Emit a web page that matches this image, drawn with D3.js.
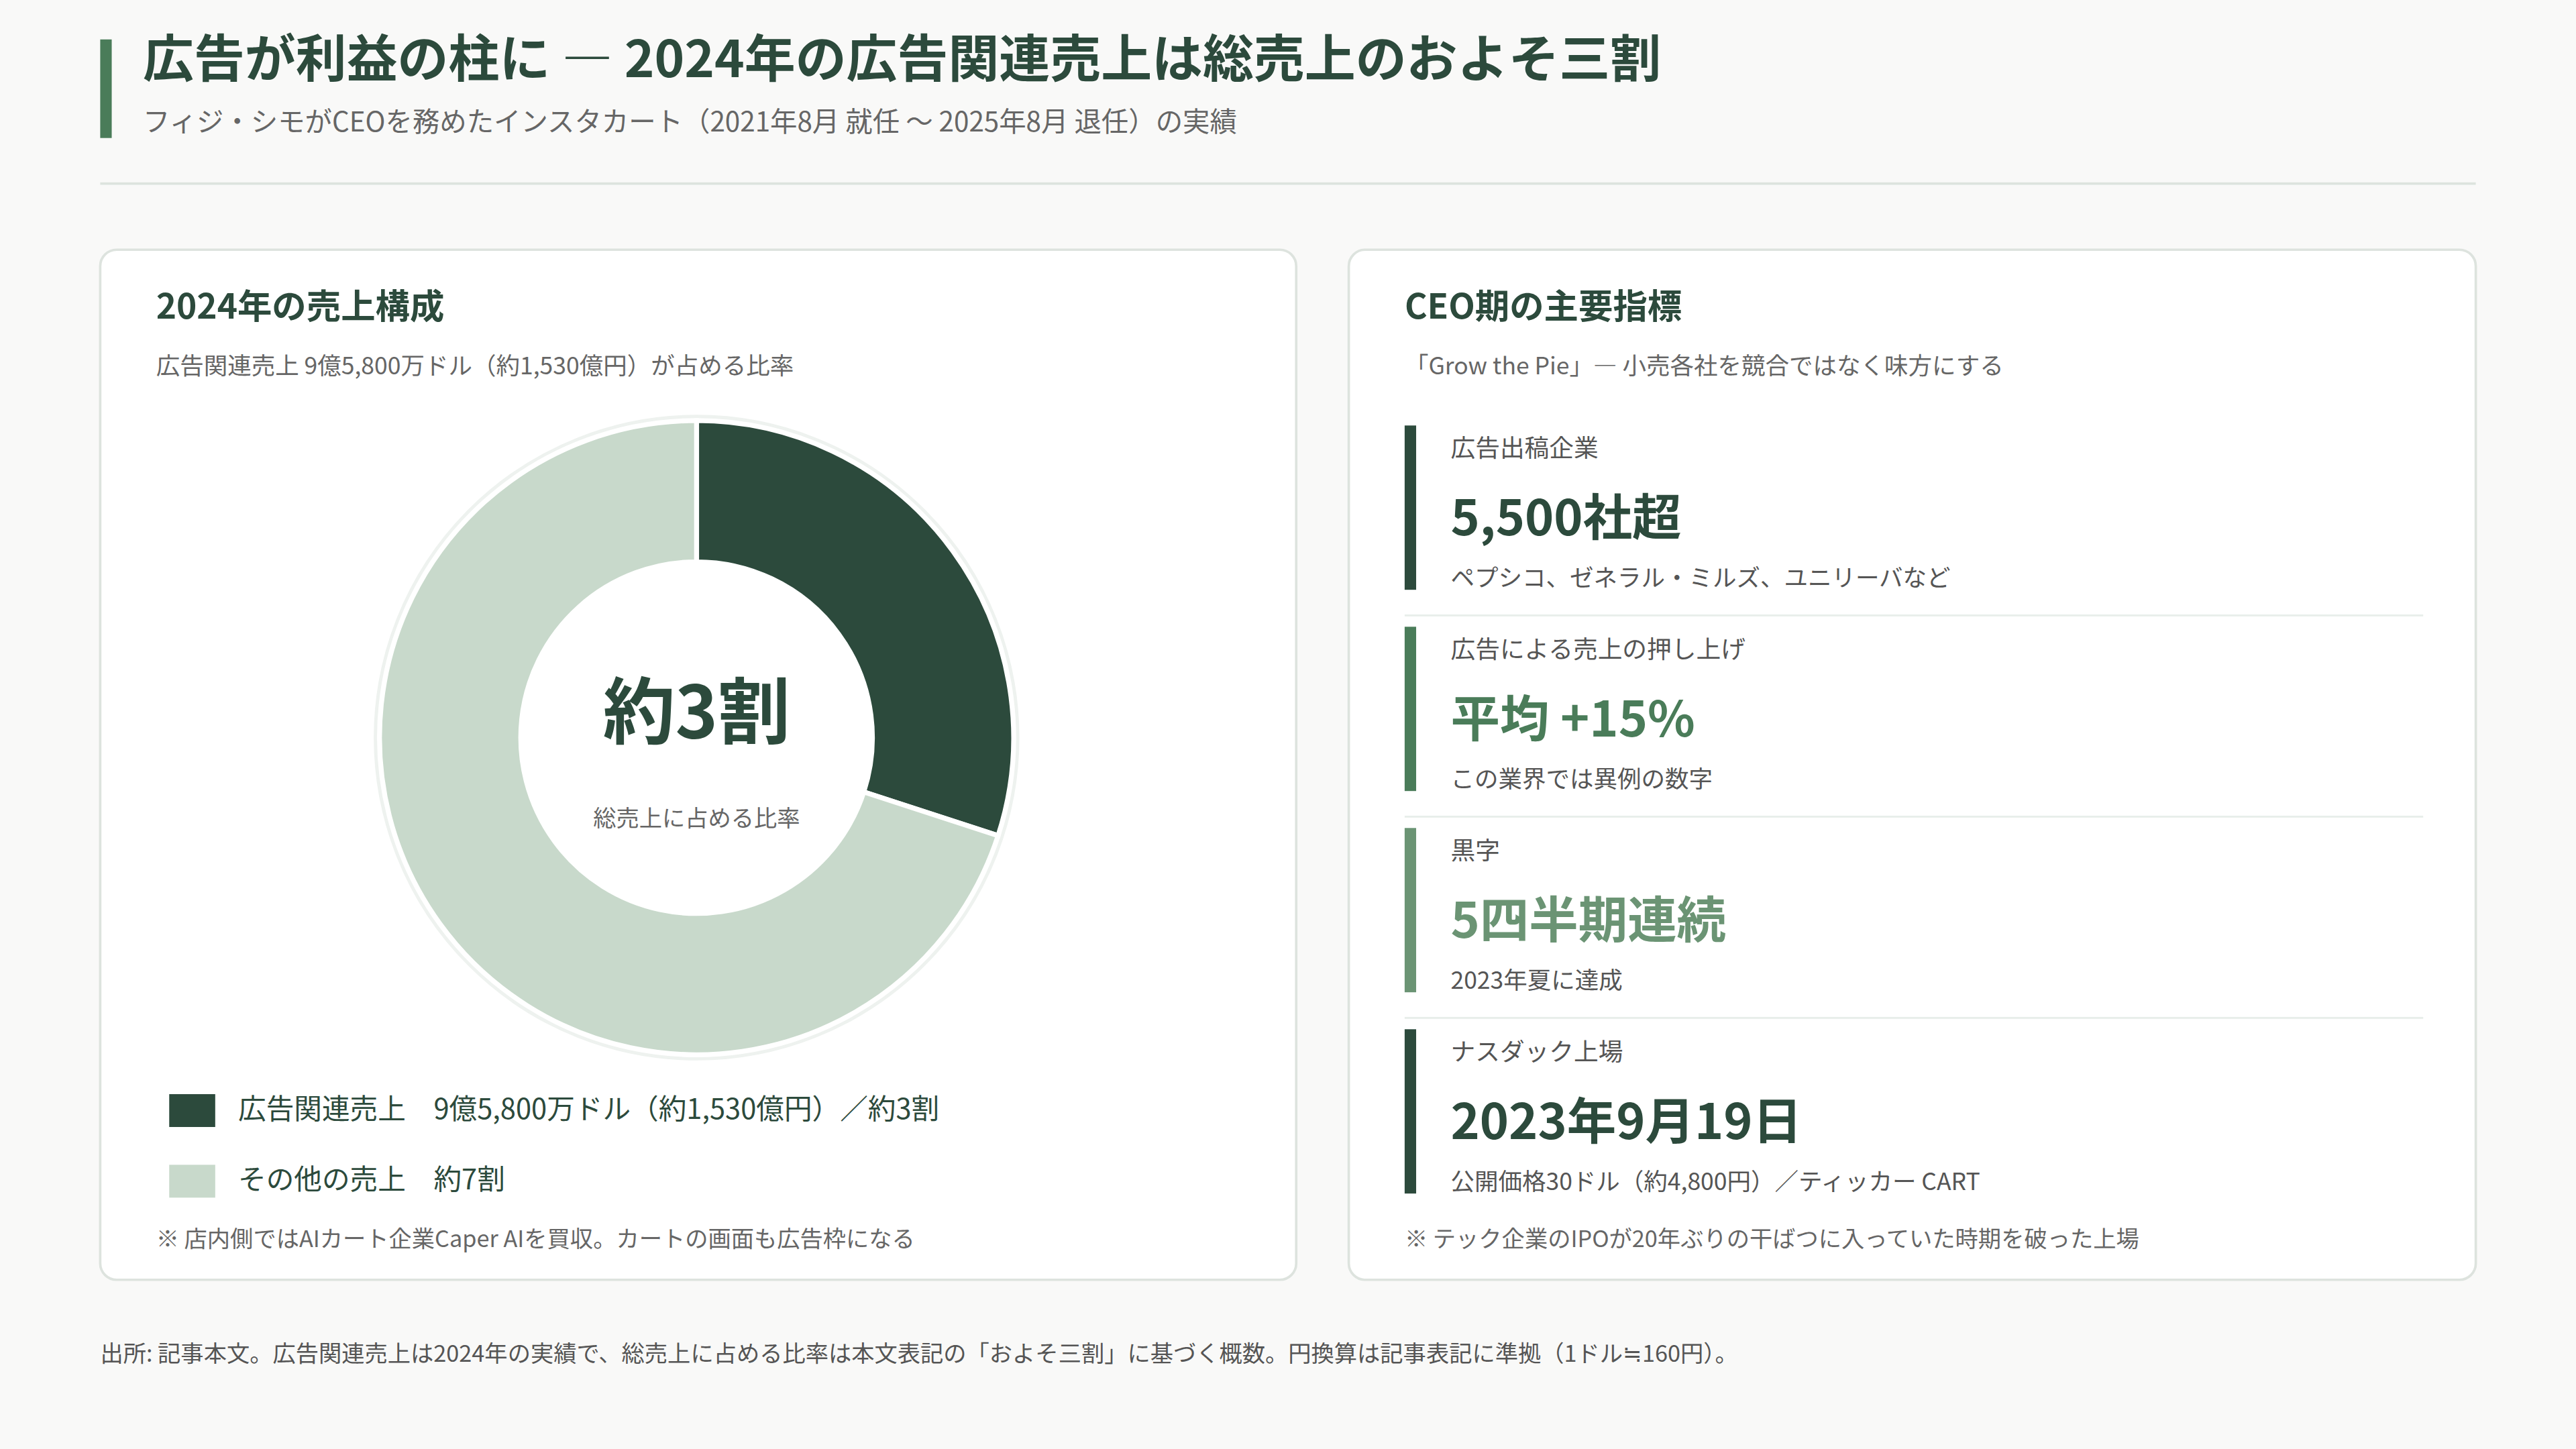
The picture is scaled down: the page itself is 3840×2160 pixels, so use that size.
<!DOCTYPE html>
<html><head><meta charset="utf-8">
<script src="https://cdn.jsdelivr.net/npm/d3@7/dist/d3.min.js"></script>
<style>html,body{margin:0;background:#f9f9f8;}svg{display:block;font-family:"Noto Sans CJK JP","Noto Sans",sans-serif;}</style>
</head><body>
<script>
const shareLabels = ["広告関連売上", "その他の売上"];
const shareValues = [30, 70];
const shareColors = ["#2c4a3c", "#c8d9cb"];
const legendTexts = ["広告関連売上　9億5,800万ドル（約1,530億円）／約3割", "その他の売上　約7割"];
const metricLabels = ["広告出稿企業", "広告による売上の押し上げ", "黒字", "ナスダック上場"];
const metricValues = ["5,500社超", "平均 +15%", "5四半期連続", "2023年9月19日"];
const metricNotes = ["ペプシコ、ゼネラル・ミルズ、ユニリーバなど", "この業界では異例の数字", "2023年夏に達成", "公開価格30ドル（約4,800円）／ティッカー CART"];
const metricColors = ["#2c4a3c", "#4a7c59", "#6b9474", "#2c4a3c"];

const svg = d3.select("body").append("svg").attr("width",3840).attr("height",2160).attr("viewBox","0 0 1568 882");
svg.append("rect").attr("width",1568).attr("height",882).attr("fill","#f9f9f8");
const T=(x,y,t,s,c,w,a)=>svg.append("text").attr("x",x).attr("y",y).text(t).attr("font-size",s).attr("fill",c).attr("font-weight",w||400).attr("text-anchor",a||"start");

svg.append("rect").attr("x",61).attr("y",24).attr("width",7).attr("height",60).attr("fill","#4a7c59");
T(87,47,"広告が利益の柱に ― 2024年の広告関連売上は総売上のおよそ三割",31,"#2c4a3c",700);
T(87,80,"フィジ・シモがCEOを務めたインスタカート（2021年8月 就任 〜 2025年8月 退任）の実績",16.5,"#666",400);
svg.append("rect").attr("x",61).attr("y",111).attr("width",1446).attr("height",1.5).attr("fill","#dde3de");

[[61,728],[821,686]].forEach(([x,w])=>svg.append("rect").attr("x",x).attr("y",152).attr("width",w).attr("height",627).attr("rx",10).attr("fill","#fff").attr("stroke","#dde3de").attr("stroke-width",1.5));

T(95,194,"2024年の売上構成",21,"#2c4a3c",700);
T(95,228,"広告関連売上 9億5,800万ドル（約1,530億円）が占める比率",14.5,"#666");
const pie=d3.pie().sort(null).value(d=>d)(shareValues);
const arc=d3.arc().innerRadius(107).outerRadius(193);
const g=svg.append("g").attr("transform","translate(424,449)");
g.append("circle").attr("r",195).attr("fill","none").attr("stroke","#eef2ef").attr("stroke-width",3);
g.selectAll("path").data(pie).join("path").attr("d",arc).attr("fill",(d,i)=>shareColors[i]).attr("stroke","#fff").attr("stroke-width",3);
g.append("text").attr("y",0).attr("text-anchor","middle").attr("font-size",44).attr("font-weight",700).attr("fill","#2c4a3c").text("約3割");
g.append("text").attr("y",54).attr("text-anchor","middle").attr("font-size",14).attr("fill","#666").text("総売上に占める比率");
legendTexts.forEach((t,i)=>{
  svg.append("rect").attr("x",103).attr("y",666+i*43).attr("width",28).attr("height",20).attr("fill",shareColors[i]);
  T(145,681+i*43,t,17,"#2c4a3c");
});
T(95,759,"※ 店内側ではAIカート企業Caper AIを買収。カートの画面も広告枠になる",14,"#666");

T(855,194,"CEO期の主要指標",21,"#2c4a3c",700);
T(855,228,"「Grow the Pie」― 小売各社を競合ではなく味方にする",14.5,"#666");
metricLabels.forEach((l,i)=>{
  const y=259+i*122.5;
  svg.append("rect").attr("x",855).attr("y",y).attr("width",7).attr("height",100).attr("fill",metricColors[i]);
  T(883,y+19,l,15,"#555");
  T(883,y+67,metricValues[i],30,metricColors[i],700);
  T(883,y+98,metricNotes[i],14.5,"#555");
  if(i<3) svg.append("rect").attr("x",855).attr("y",y+115).attr("width",620).attr("height",1.2).attr("fill","#e8eeea");
});
T(855,759,"※ テック企業のIPOが20年ぶりの干ばつに入っていた時期を破った上場",14,"#666");
T(61,829,"出所: 記事本文。広告関連売上は2024年の実績で、総売上に占める比率は本文表記の「およそ三割」に基づく概数。円換算は記事表記に準拠（1ドル≒160円）。",14,"#555");
</script>
</body></html>
